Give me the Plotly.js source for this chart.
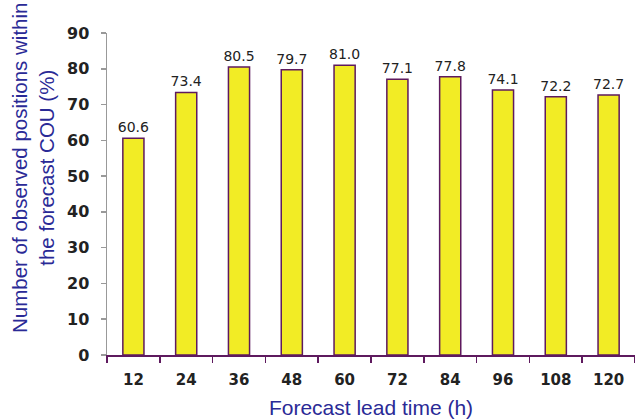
<!DOCTYPE html>
<html><head><meta charset="utf-8">
<script src="https://cdn.plot.ly/plotly-3.0.1.min.js"></script>
<style>html,body{margin:0;padding:0;background:#fff}#c{width:635px;height:419px}</style>
</head><body><div id="c"></div>
<script>
const leadTimes = ['12','24','36','48','60','72','84','96','108','120'];
const percentWithin = [60.6, 73.4, 80.5, 79.7, 81.0, 77.1, 77.8, 74.1, 72.2, 72.7];
const yTicks = [0,10,20,30,40,50,60,70,80,90];
const yTitle = 'Number of observed positions within<br>the forecast COU (%)';
const xTitle = 'Forecast lead time (h)';

const trace = {
  type: 'bar',
  x: leadTimes,
  y: percentWithin,
  width: 0.4,
  marker: {color: '#f2ec25', line: {color: '#5e1a5e', width: 1.5}},
  text: percentWithin.map(v => v.toFixed(1)),
  textposition: 'outside',
  constraintext: 'none',
  cliponaxis: false,
  textfont: {family: 'DejaVu Sans', size: 14, color: '#222'},
  hoverinfo: 'none'
};

const layout = {
  width: 635, height: 419,
  margin: {l: 107, r: 0, t: 33, b: 64},
  paper_bgcolor: '#fff', plot_bgcolor: '#fff',
  showlegend: false,
  xaxis: {
    type: 'category',
    tickson: 'boundaries',
    ticks: 'outside', ticklen: 6, tickwidth: 1.5, tickcolor: '#5e1a5e',
    showline: true, linecolor: '#5e1a5e', linewidth: 2,
    showgrid: false, zeroline: false,
    ticklabelstandoff: 10,
    tickfont: {family: 'DejaVu Sans', size: 15, color: '#222', weight: 'bold'},
    title: {text: xTitle, standoff: 14,
      font: {family: 'Liberation Sans, Arial', size: 21, color: '#2a2a96'}}
  },
  yaxis: {
    range: [0, 90],
    tickvals: yTicks,
    ticks: 'outside', ticklen: 5, tickwidth: 1.5, tickcolor: '#999',
    showline: true, linecolor: '#999', linewidth: 1.5,
    showgrid: false, zeroline: false,
    ticklabelstandoff: 8,
    tickfont: {family: 'DejaVu Sans', size: 16, color: '#222', weight: 'bold'}
  },
  annotations: [{
    text: yTitle, xref: 'paper', yref: 'paper',
    x: -0.1402, y: 0.5807, xanchor: 'center', yanchor: 'middle',
    textangle: -90, showarrow: false,
    font: {family: 'Liberation Sans, Arial', size: 20.5, color: '#2a2a96'}
  }]
};

Plotly.newPlot('c', [trace], layout, {displayModeBar: false, staticPlot: true});
</script></body></html>
